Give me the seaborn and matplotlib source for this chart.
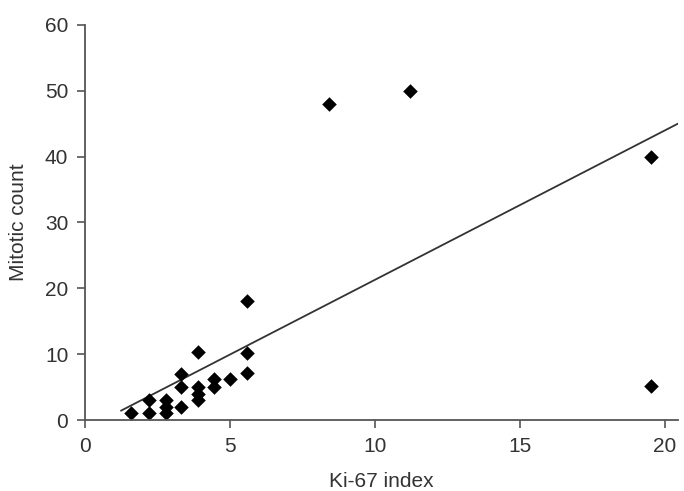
"""Scatter of mitotic count against Ki-67 index with a linear trend line."""

import numpy as np
import pandas as pd
import seaborn as sns
from matplotlib import pyplot as plt

# values
KI67_INDEX = [1.6, 2.2, 2.2, 2.8, 2.8, 2.8, 3.3, 3.3, 3.3, 3.9, 3.9, 3.9, 3.9,
              4.45, 4.45, 5.0, 5.6, 5.6, 5.6, 8.4, 11.2, 19.5, 19.5]
MITOTIC_COUNT = [1, 1, 3, 1, 2, 3, 2, 5, 7, 10.4, 5, 4, 3,
                 6.2, 5, 6.2, 18, 10.2, 7.2, 48, 50, 40, 5.2]

# trend line as drawn in the figure
TREND_SLOPE = 2.27
TREND_INTERCEPT = -1.4
TREND_RANGE = [1.24, 20.45]

X_TICKS = [0, 5, 10, 15, 20]
Y_TICKS = [0, 10, 20, 30, 40, 50, 60]

TEXT_COLOR = "#333333"
AXIS_COLOR = "#555555"


def _main() -> None:
    sns.set_style("ticks")
    plt.rcParams["font.family"] = ["Liberation Sans", "DejaVu Sans"]

    df = pd.DataFrame({"ki67": KI67_INDEX, "mitotic": MITOTIC_COUNT})

    fig = plt.figure(figsize=(6.84, 4.91), dpi=100)
    ax = fig.add_axes((0.1243, 0.1446, 0.8670, 0.8045))

    line_x = np.array(TREND_RANGE)
    ax.plot(line_x, TREND_INTERCEPT + TREND_SLOPE * line_x,
            color="#333333", linewidth=1.3, zorder=1)

    sns.scatterplot(data=df, x="ki67", y="mitotic", marker="D", color="black",
                    s=55, linewidth=0, ax=ax, zorder=2)

    ax.set_xlim(0, 20.45)
    ax.set_ylim(0, 60)
    ax.set_xticks(X_TICKS)
    ax.set_yticks(Y_TICKS)
    # the reference crops this label at the bottom edge; keep it just inside
    ax.set_xlabel("Ki-67 index", fontsize=15, color=TEXT_COLOR, labelpad=12)
    ax.set_ylabel("Mitotic count", fontsize=15, color=TEXT_COLOR, labelpad=12)

    sns.despine(ax=ax)
    for side in ("left", "bottom"):
        ax.spines[side].set_color(AXIS_COLOR)
        ax.spines[side].set_linewidth(1.3)
    ax.tick_params(axis="both", direction="out", length=6, width=1.2,
                   color=AXIS_COLOR, labelsize=15, labelcolor=TEXT_COLOR, pad=6)
    for lab in ax.get_xticklabels() + ax.get_yticklabels():
        lab.set_clip_on(False)

    fig.savefig("out.png", dpi=100)


if __name__ == "__main__":
    _main()
